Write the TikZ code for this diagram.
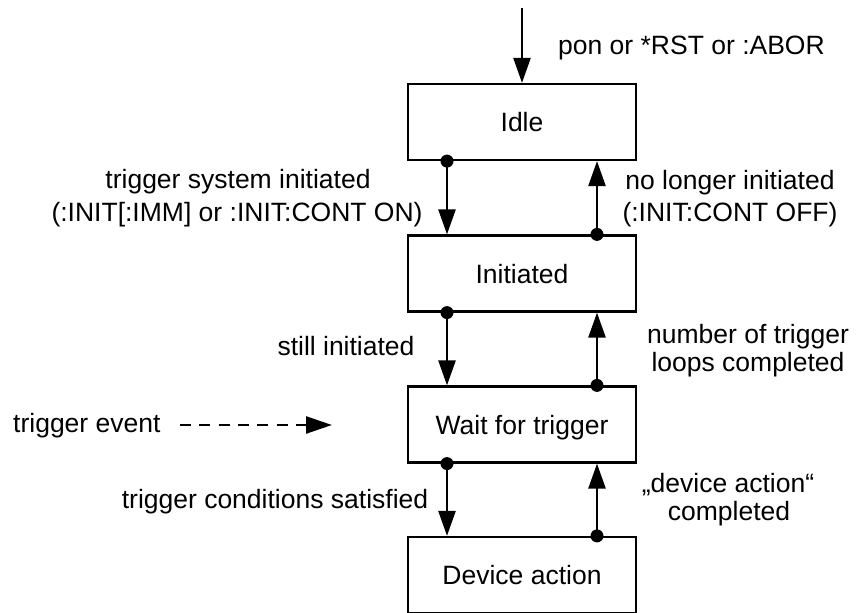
\documentclass[tikz,border=0pt]{standalone}
\usepackage{fontspec}
\setmainfont{Liberation Sans}
\usetikzlibrary{arrows.meta}
\begin{document}
\begin{tikzpicture}[x=1bp,y=-1bp,
  state/.style={draw,line width=2.2bp,minimum width=228bp,minimum height=76bp,inner sep=0pt,
    text height=19bp,text depth=0bp,font=\fontsize{26.5bp}{30bp}\selectfont},
  lbl/.style={font=\fontsize{26.5bp}{30bp}\selectfont,inner sep=0pt,anchor=base},
  conn/.style={line width=2.5bp,-{Triangle[length=25bp,width=17bp]}},
  dot/.style={circle,fill,inner sep=0pt,minimum size=13bp}]
\useasboundingbox (0,0) rectangle (856,613);

% states
\node[state] (idle) at (522,122) {Idle};
\node[state] (init) at (522,273.5) {Initiated};
\node[state] (wait) at (522,424.5) {Wait for trigger};
\node[state] (dev)  at (522,575) {Device action};

% entry arrow
\coordinate (top) at (522,8);
\draw[conn] (top) -- (idle.north);
\node[lbl,anchor=base west] (lpon) at (558,55) {pon or *RST or :ABOR};

% dots
\node[dot] (d1) at ([xshift=-75bp]idle.south) {};
\node[dot] (d2) at ([xshift=75bp]init.north) {};
\node[dot] (d3) at ([xshift=-75bp]init.south) {};
\node[dot] (d4) at ([xshift=75bp]wait.north) {};
\node[dot] (d5) at ([xshift=-75bp]wait.south) {};
\node[dot] (d6) at ([xshift=75bp]dev.north) {};

% transitions
\draw[conn] (d1.center) -- (d1 |- init.north);
\draw[conn] (d2.center) -- (d2 |- idle.south);
\draw[conn] (d3.center) -- (d3 |- wait.north);
\draw[conn] (d4.center) -- (d4 |- init.south);
\draw[conn] (d5.center) -- (d5 |- dev.north);
\draw[conn] (d6.center) -- (d6 |- wait.south);

% labels
\node[lbl] (l1a) at (238,189) {trigger system initiated};
\node[lbl] (l1b) at (237,222) {(:INIT[:IMM] or :INIT:CONT ON)};
\node[lbl] (l2a) at (730,190) {no longer initiated};
\node[lbl] (l2b) at (730,222) {(:INIT:CONT OFF)};
\node[lbl] (l3)  at (346,355) {still initiated};
\node[lbl] (l4a) at (748,343) {number of trigger};
\node[lbl] (l4b) at (748,371) {loops completed};
\node[lbl] (l5)  at (275,508) {trigger conditions satisfied};
\node[lbl] (l6a) at (728,492) {„device action“};
\node[lbl] (l6b) at (729,520) {completed};

% trigger event
\node[lbl,anchor=base west] (te) at (13,432) {trigger event};
\coordinate (te1) at (180,425);
\coordinate (te2) at (332,425);
\draw[line width=2.5bp,dash pattern=on 11bp off 8.3bp,-{Triangle[length=26bp,width=17bp]}] (te1) -- (te2);
\end{tikzpicture}
\end{document}
